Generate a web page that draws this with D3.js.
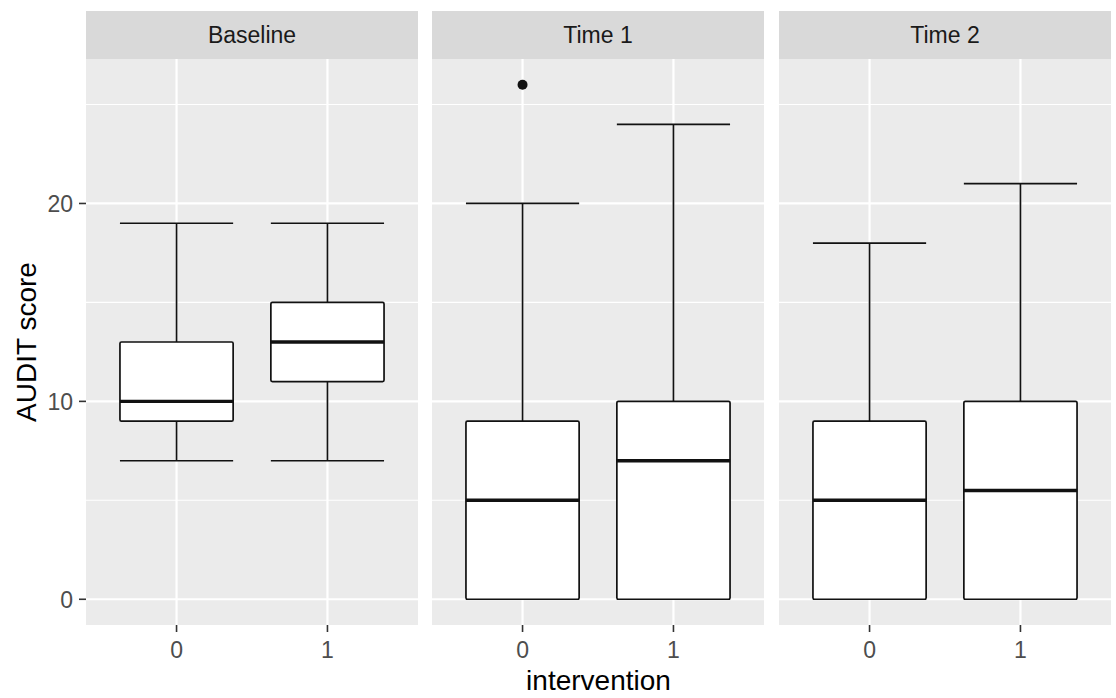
<!DOCTYPE html>
<html>
<head>
<meta charset="utf-8">
<script src="https://cdn.jsdelivr.net/npm/d3@7"></script>
<style>
  html, body { margin: 0; padding: 0; background: #fff; }
  svg { display: block; }
  text { font-family: "Liberation Sans", Arial, sans-serif; }
</style>
</head>
<body>
<svg id="chart" width="1116" height="698"></svg>
<script>
// ---- Data ----
const facets = ["Baseline", "Time 1", "Time 2"];
const groups = ["0", "1"];
// per facet, per group: [lowerWhisker, q1, median, q3, upperWhisker]
const baselineStats = [[7, 9, 10, 13, 19], [7, 11, 13, 15, 19]];
const time1Stats    = [[0, 0, 5, 9, 20],   [0, 0, 7, 10, 24]];
const time2Stats    = [[0, 0, 5, 9, 18],   [0, 0, 5.5, 10, 21]];
const time1Outliers = [[26], []];
const baselineOutliers = [[], []];
const time2Outliers = [[], []];
const yTicks = [0, 10, 20];
const yMinor = [5, 15, 25];

const facetStats = [baselineStats, time1Stats, time2Stats];
const facetOutliers = [baselineOutliers, time1Outliers, time2Outliers];

// ---- Layout ----
const svg = d3.select("#chart");
const panelTop = 59, panelBottom = 625;
const stripTop = 11;
const panelLefts = [86, 432, 779];
const panelW = 332;

const y = d3.scaleLinear().domain([-1.3, 27.3]).range([panelBottom, panelTop]);
// discrete scale with ggplot's 0.6 expansion
const xLin = d3.scaleLinear().domain([0.4, 2.6]).range([0, panelW]);
const boxW = xLin(1.75) - xLin(1);

facets.forEach((f, fi) => {
  const g = svg.append("g").attr("transform", `translate(${panelLefts[fi]},0)`);
  // strip
  g.append("rect").attr("x", 0).attr("y", stripTop).attr("width", panelW)
    .attr("height", panelTop - stripTop).attr("fill", "#D9D9D9");
  g.append("text").attr("x", panelW / 2).attr("y", (stripTop + panelTop) / 2)
    .attr("dy", "0.36em").attr("text-anchor", "middle").attr("font-size", 23)
    .attr("fill", "#1A1A1A").text(f);
  // panel
  g.append("rect").attr("x", 0).attr("y", panelTop).attr("width", panelW)
    .attr("height", panelBottom - panelTop).attr("fill", "#EBEBEB");
  // minor grid
  g.selectAll(".minor").data(yMinor).enter().append("line")
    .attr("x1", 0).attr("x2", panelW).attr("y1", d => y(d)).attr("y2", d => y(d))
    .attr("stroke", "#fff").attr("stroke-width", 1.1);
  // major grid
  g.selectAll(".major").data(yTicks).enter().append("line")
    .attr("x1", 0).attr("x2", panelW).attr("y1", d => y(d)).attr("y2", d => y(d))
    .attr("stroke", "#fff").attr("stroke-width", 2.2);
  g.selectAll(".vmajor").data(groups).enter().append("line")
    .attr("x1", (d, i) => xLin(i + 1)).attr("x2", (d, i) => xLin(i + 1))
    .attr("y1", panelTop).attr("y2", panelBottom)
    .attr("stroke", "#fff").attr("stroke-width", 2.2);

  // boxes
  facetStats[fi].forEach((s, gi) => {
    const cx = xLin(gi + 1);
    const [lo, q1, med, q3, hi] = s;
    const half = boxW / 2;
    // whiskers
    g.append("line").attr("x1", cx).attr("x2", cx).attr("y1", y(q3)).attr("y2", y(hi))
      .attr("stroke", "#111").attr("stroke-width", 1.7);
    if (q1 > lo) {
      g.append("line").attr("x1", cx).attr("x2", cx).attr("y1", y(q1)).attr("y2", y(lo))
        .attr("stroke", "#111").attr("stroke-width", 1.7);
    }
    // whisker caps
    g.append("line").attr("x1", cx - half).attr("x2", cx + half).attr("y1", y(hi)).attr("y2", y(hi))
      .attr("stroke", "#111").attr("stroke-width", 1.7);
    g.append("line").attr("x1", cx - half).attr("x2", cx + half).attr("y1", y(lo)).attr("y2", y(lo))
      .attr("stroke", "#111").attr("stroke-width", 1.7);
    // box
    g.append("rect").attr("x", cx - half).attr("y", y(q3)).attr("width", boxW)
      .attr("height", y(q1) - y(q3)).attr("fill", "#fff")
      .attr("stroke", "#111").attr("stroke-width", 1.7).attr("rx", 1.5);
    // median
    g.append("line").attr("x1", cx - half).attr("x2", cx + half).attr("y1", y(med)).attr("y2", y(med))
      .attr("stroke", "#111").attr("stroke-width", 3.4);
    // outliers
    facetOutliers[fi][gi].forEach(o => {
      g.append("circle").attr("cx", cx).attr("cy", y(o)).attr("r", 5).attr("fill", "#111");
    });
  });

  // x axis
  const xAxisG = g.append("g");
  groups.forEach((lab, gi) => {
    const cx = xLin(gi + 1);
    xAxisG.append("line").attr("x1", cx).attr("x2", cx).attr("y1", panelBottom).attr("y2", panelBottom + 7)
      .attr("stroke", "#333").attr("stroke-width", 1.6);
    xAxisG.append("text").attr("x", cx).attr("y", panelBottom + 33).attr("text-anchor", "middle")
      .attr("font-size", 23).attr("fill", "#4D4D4D").text(lab);
  });
});

// y axis (left panel only)
const yAxisG = svg.append("g");
yTicks.forEach(t => {
  yAxisG.append("line").attr("x1", 79).attr("x2", 86).attr("y1", y(t)).attr("y2", y(t))
    .attr("stroke", "#333").attr("stroke-width", 1.6);
  yAxisG.append("text").attr("x", 73).attr("y", y(t)).attr("dy", "0.36em").attr("text-anchor", "end")
    .attr("font-size", 23).attr("fill", "#4D4D4D").text(t);
});

// axis titles
svg.append("text").attr("x", (86 + 1111) / 2).attr("y", 690).attr("text-anchor", "middle")
  .attr("font-size", 28).attr("fill", "#000").text("intervention");
svg.append("text").attr("transform", `translate(36,${(panelTop + panelBottom) / 2}) rotate(-90)`)
  .attr("text-anchor", "middle").attr("font-size", 28).attr("fill", "#000").text("AUDIT score");
</script>
</body>
</html>
